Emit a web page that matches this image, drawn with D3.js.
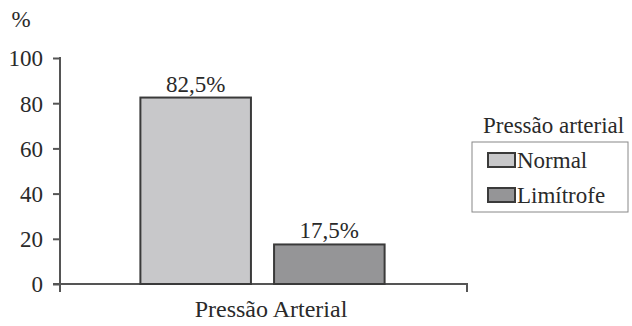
<!DOCTYPE html>
<html><head><meta charset="utf-8">
<script src="https://cdn.jsdelivr.net/npm/d3@7"></script>
<style>body{margin:0;background:#fff}svg{display:block}</style>
</head><body>
<script>
const category = ["Pressão Arterial"];
const seriesNames = ["Normal", "Limítrofe"];
const seriesValues = [82.5, 17.5];
const valueLabels = ["82,5%", "17,5%"];
const yTicks = [0, 20, 40, 60, 80, 100];
const colors = ["#c8c8ca", "#959597"];

const FONT = '"Liberation Serif"';
const W = 632, H = 326;
const svg = d3.select("body").append("svg").attr("width", W).attr("height", H);
const x0 = 60, x1 = 467, yTop = 58, yBot = 284;
const y = d3.scaleLinear().domain([0, 100]).range([yBot, yTop]);
const xb = d3.scaleBand().domain(category).range([x0 - 2, x1]).paddingInner(0).paddingOuter(0.3374);
const xs = d3.scaleBand().domain(seriesNames).range([0, xb.bandwidth()]).paddingInner(0.173).paddingOuter(0);

const fs = 23;
const tc = "#2a2a2a";
function txt(sel, size) { return sel.style("font-family", FONT).style("font-size", (size || fs) + "px").attr("fill", tc); }

// y axis
const yAxis = d3.axisLeft(y).tickValues(yTicks).tickSize(7).tickPadding(10).tickFormat(d3.format("d"));
const gy = svg.append("g").attr("transform", `translate(${x0},0)`).call(yAxis);
gy.select(".domain").remove();
gy.selectAll("line").attr("stroke", "#555").attr("stroke-width", 2);
txt(gy.selectAll("text")).attr("dy", "0.34em");
svg.append("line").attr("x1", x0).attr("x2", x0).attr("y1", yTop - 1).attr("y2", yBot + 8).attr("stroke", "#555").attr("stroke-width", 2);
// x baseline
svg.append("path").attr("d", `M${x0 - 7},${yBot}H${x1}V${yBot + 8}`).attr("fill", "none").attr("stroke", "#555").attr("stroke-width", 2);

// bars
const g = svg.append("g").attr("transform", `translate(${xb(category[0])},0)`);
g.selectAll("rect").data(seriesValues).join("rect")
  .attr("x", (d, i) => xs(seriesNames[i]))
  .attr("y", d => y(d))
  .attr("width", xs.bandwidth())
  .attr("height", d => y(0) - y(d))
  .attr("fill", (d, i) => colors[i])
  .attr("stroke", "#3a3a3a").attr("stroke-width", 2);
txt(g.selectAll("text.v").data(seriesValues).join("text").attr("class", "v")
  .attr("x", (d, i) => xs(seriesNames[i]) + xs.bandwidth() / 2)
  .attr("y", d => y(d) - 6)
  .attr("text-anchor", "middle"))
  .text((d, i) => valueLabels[i]);

// axis labels
txt(svg.append("text").attr("x", 21).attr("y", 27).attr("text-anchor", "middle")).text("%");
txt(svg.append("text").attr("x", 271).attr("y", 317).attr("text-anchor", "middle"), 24).text(category[0]);

// legend
txt(svg.append("text").attr("x", 483).attr("y", 133)).text("Pressão arterial");
svg.append("rect").attr("x", 472).attr("y", 142).attr("width", 156).attr("height", 70).attr("fill", "none").attr("stroke", "#888").attr("stroke-width", 1);
const lg = svg.selectAll("g.lg").data(seriesNames).join("g").attr("class", "lg")
  .attr("transform", (d, i) => `translate(488,${153 + i * 35})`);
lg.append("rect").attr("width", 27).attr("height", 14).attr("fill", (d, i) => colors[i]).attr("stroke", "#3a3a3a").attr("stroke-width", 2);
txt(lg.append("text").attr("x", 29).attr("y", 15)).text(d => d);
</script>
</body></html>
